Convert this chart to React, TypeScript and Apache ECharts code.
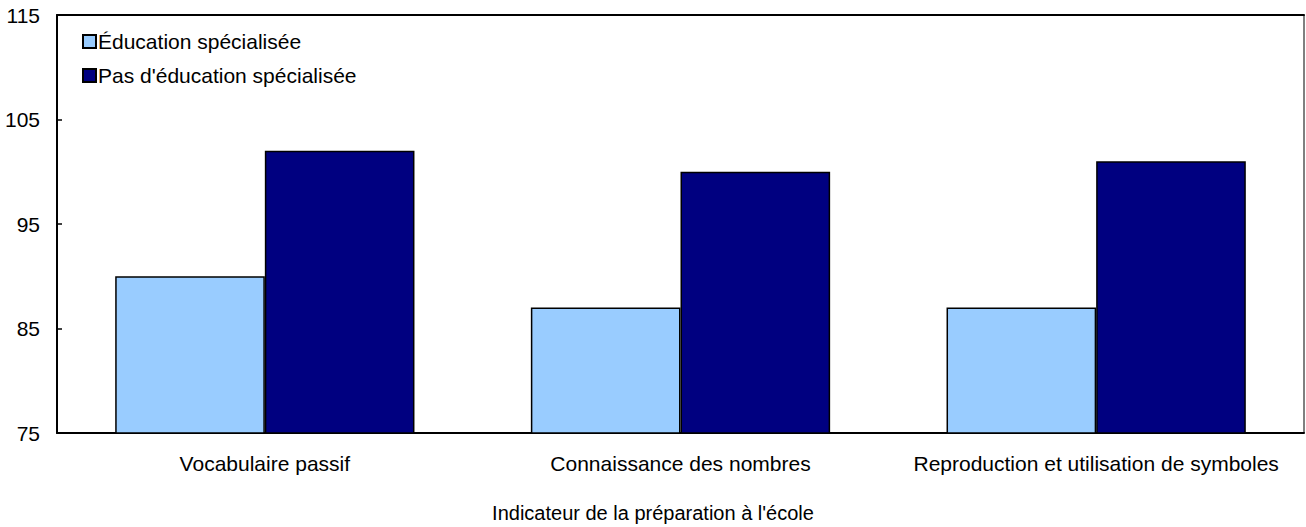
import React, { useEffect, useRef } from "react";
import * as echarts from "echarts";

const categories = ["Vocabulaire passif", "Connaissance des nombres", "Reproduction et utilisation de symboles"];
const specialEd = [90, 87, 87];
const noSpecialEd = [102, 100, 101];
const seriesNames = ["Éducation spécialisée", "Pas d'éducation spécialisée"];
const xAxisTitle = "Indicateur de la préparation à l'école";

export default function App() {
  const ref = useRef<HTMLDivElement>(null);
  useEffect(() => {
    document.body.style.margin = "0";
    const chart = echarts.init(ref.current!, null, { renderer: "svg" });
    const font = "'Liberation Sans', Arial, Helvetica, sans-serif";
    chart.setOption({
      animation: false,
      textStyle: { fontFamily: font },
      title: {
        text: xAxisTitle,
        left: "center",
        top: 503,
        padding: 0,
        textStyle: { fontSize: 20, color: "#000", fontWeight: "normal", fontFamily: font },
      },
      grid: { left: 57, right: 2, top: 15, bottom: 94, show: true, borderColor: "#000", borderWidth: 1 },
      legend: {
        orient: "vertical",
        left: 77,
        top: 26,
        itemWidth: 13,
        itemHeight: 13,
        itemGap: 13,
        icon: "rect",
        textStyle: { fontSize: 21, color: "#000", fontFamily: font, padding: [0, 0, 0, -3] },
        data: seriesNames,
      },
      xAxis: [
        {
          type: "category",
          data: categories,
          axisLine: { lineStyle: { color: "#000", width: 2 } },
          axisTick: { show: false },
          axisLabel: { fontSize: 21, color: "#000", margin: 20, interval: 0, fontFamily: font },
        },
        {
          type: "category",
          data: categories,
          position: "top",
          axisLine: { show: true, lineStyle: { color: "#000", width: 2 } },
          axisTick: { show: false },
          axisLabel: { show: false },
        },
      ],
      yAxis: {
        type: "value",
        min: 75,
        max: 115,
        interval: 10,
        axisLine: { show: true, lineStyle: { color: "#000", width: 2 } },
        axisTick: { show: true, inside: true, length: 5, lineStyle: { color: "#000", width: 1.5 } },
        axisLabel: { fontSize: 21, color: "#000", margin: 17, fontFamily: font },
        splitLine: { show: false },
      },
      series: [
        {
          name: seriesNames[0],
          type: "bar",
          data: specialEd,
          barGap: "0%",
          barCategoryGap: "28%",
          itemStyle: { color: "#99CCFF", borderColor: "#000", borderWidth: 1.5 },
        },
        {
          name: seriesNames[1],
          type: "bar",
          data: noSpecialEd,
          itemStyle: { color: "#000080", borderColor: "#000", borderWidth: 1.5 },
        },
      ],
    });
    return () => chart.dispose();
  }, []);
  return <div ref={ref} style={{ width: 1306, height: 527 }} />;
}
